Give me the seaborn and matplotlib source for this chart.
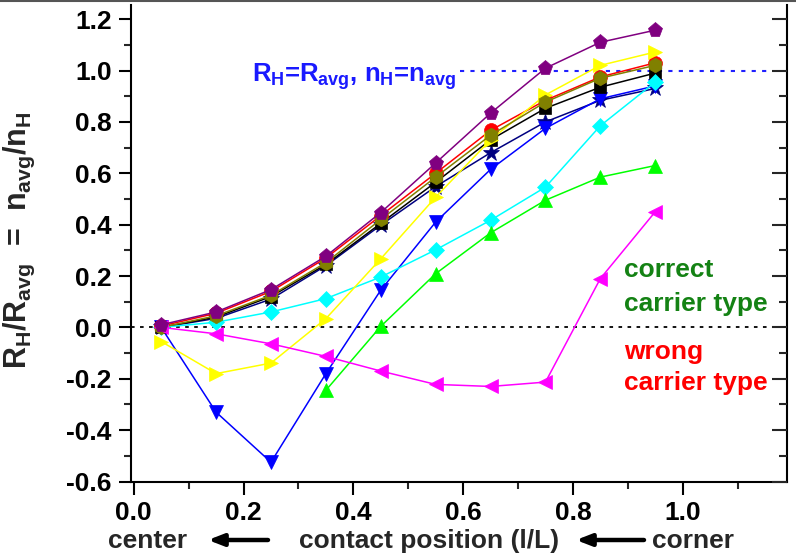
import numpy as np
import pandas as pd
import matplotlib
matplotlib.use("Agg")
import matplotlib.pyplot as plt
from matplotlib.ticker import MultipleLocator, FixedLocator
import seaborn as sns

# ---- data ----
x_pos = [0.05, 0.15, 0.25, 0.35, 0.45, 0.55, 0.65, 0.75, 0.85, 0.95]
nan = np.nan
navy_star   = [0.000, 0.035, 0.110, 0.240, 0.398, 0.548, 0.680, 0.800, 0.884, 0.930]
blue_down   = [0.000, -0.330, -0.525, -0.180, 0.145, 0.410, 0.615, 0.775, 0.890, 0.940]
black_sq    = [0.000, 0.040, 0.120, 0.245, 0.405, 0.565, 0.730, 0.853, 0.935, 0.990]
cyan_diam   = [0.000, 0.020, 0.060, 0.112, 0.196, 0.302, 0.417, 0.546, 0.785, 0.955]
red_circ    = [0.005, 0.055, 0.140, 0.270, 0.435, 0.600, 0.767, 0.884, 0.975, 1.030]
yellow_right= [-0.055, -0.180, -0.139, 0.034, 0.267, 0.507, 0.730, 0.905, 1.020, 1.072]
olive_circ  = [0.000, 0.045, 0.125, 0.252, 0.420, 0.585, 0.748, 0.877, 0.970, 1.020]
green_up    = [nan, nan, nan, -0.245, 0.004, 0.209, 0.368, 0.495, 0.585, 0.630]
magenta_left= [0.000, -0.025, -0.064, -0.113, -0.170, -0.222, -0.230, -0.213, 0.190, 0.450]
purple_pent = [0.010, 0.060, 0.147, 0.277, 0.447, 0.640, 0.834, 1.009, 1.110, 1.157]

series = [
    ("navy_star", navy_star, "#000080", "*", 12),
    ("blue_down", blue_down, "#0000FF", "v", 10),
    ("black_sq", black_sq, "#000000", "s", 8.5),
    ("cyan_diam", cyan_diam, "#00FFFF", "D", 8),
    ("red_circ", red_circ, "#FF0000", "o", 10),
    ("yellow_right", yellow_right, "#FFFF00", ">", 10),
    ("olive_circ", olive_circ, "#808000", "h", 10.5),
    ("green_up", green_up, "#00FF00", "^", 10),
    ("magenta_left", magenta_left, "#FF00FF", "<", 10),
    ("purple_pent", purple_pent, "#800080", "p", 11),
]

x_ticks = [0.0, 0.2, 0.4, 0.6, 0.8, 1.0]
y_ticks = [-0.6, -0.4, -0.2, 0.0, 0.2, 0.4, 0.6, 0.8, 1.0, 1.2]

sns.set_style("ticks")
plt.rcParams["font.family"] = ["Liberation Sans", "DejaVu Sans"]
plt.rcParams["font.weight"] = "bold"
plt.rcParams["axes.unicode_minus"] = False
plt.rcParams["mathtext.fontset"] = "custom"
plt.rcParams["mathtext.rm"] = "Liberation Sans:bold"
plt.rcParams["mathtext.it"] = "Liberation Sans:bold"
plt.rcParams["mathtext.bf"] = "Liberation Sans:bold"

W, H = 796, 553
fig = plt.figure(figsize=(W / 100, H / 100), dpi=100)
L, R, T, B = 131, 787, 5, 481.5
ax = fig.add_axes([L / W, 1 - B / H, (R - L) / W, (B - T) / H])

# reference lines
ax.axhline(0.0, color="black", lw=1.3, ls=(0, (2, 3)), zorder=1)
ax.plot([0.595, 1.155], [1.0, 1.0], color="#2020FF", lw=1.5, ls=(0, (2, 3)), zorder=1)

for i, (name, vals, col, mk, ms) in enumerate(series):
    df = pd.DataFrame({"x": x_pos, "y": vals}).dropna()
    sns.lineplot(data=df, x="x", y="y", ax=ax, color=col, lw=1.1,
                 marker=mk, markersize=ms, markeredgecolor=col,
                 markeredgewidth=0.5, sort=False, estimator=None,
                 zorder=3 + i, legend=False)

ax.set_xlim(-0.005, 1.19)
ax.set_ylim(-0.6, 1.255)
ax.xaxis.set_major_locator(FixedLocator(x_ticks))
ax.xaxis.set_minor_locator(MultipleLocator(0.1))
ax.yaxis.set_major_locator(FixedLocator(y_ticks))
ax.yaxis.set_minor_locator(MultipleLocator(0.1))
ax.set_xticklabels([f"{v:.1f}" for v in x_ticks])
ax.set_yticklabels([f"{v:.1f}" for v in y_ticks])

for s in ["left", "bottom", "right"]:
    ax.spines[s].set_linewidth(1.5)
    ax.spines[s].set_color("black")
ax.spines["top"].set_visible(False)

ax.tick_params(axis="both", which="major", direction="out", length=9, width=1.5,
               labelsize=19, colors="black", pad=5)
ax.tick_params(axis="both", which="minor", direction="out", length=5, width=1.5)
ax.tick_params(axis="y", which="both", right=False)

# Right-side inward ticks
ax2 = ax.twinx()
ax2.set_ylim(ax.get_ylim())
ax2.yaxis.set_major_locator(FixedLocator(y_ticks))
ax2.yaxis.set_minor_locator(MultipleLocator(0.1))
ax2.tick_params(axis="y", which="major", direction="in", length=11, width=1.5, labelright=False)
ax2.tick_params(axis="y", which="minor", direction="in", length=6, width=1.5)
for s in ax2.spines.values():
    s.set_visible(False)

for lab in ax.get_xticklabels() + ax.get_yticklabels():
    lab.set_fontweight("bold")

ax.set_xlabel("")
ax.set_ylabel(r"$R_H/R_{avg}$  =  $n_{avg}/n_H$", fontsize=22, fontweight="bold")
ax.yaxis.set_label_coords(-0.143, 0.507)

# annotations
ax.text(0.216, 0.955, r"$R_H$=$R_{avg}$, $n_H$=$n_{avg}$", color="#1a1aff",
        fontsize=18.5, fontweight="bold", va="baseline", ha="left")
txt_kw = dict(fontsize=19, fontweight="bold", va="baseline", ha="left")
ax.text(0.893, 0.195, "correct", color="#148214", **txt_kw)
ax.text(0.893, 0.065, "carrier type", color="#148214", **txt_kw)
ax.text(0.893, -0.122, "wrong", color="#FF0000", **txt_kw)
ax.text(0.893, -0.245, "carrier type", color="#FF0000", **txt_kw)

# bottom axis caption
yb = H - 548
cap_kw = dict(fontsize=19, fontweight="bold", ha="center", va="baseline")
fig.text(148 / W, yb / H, "center", **cap_kw)
fig.text(429 / W, yb / H, "contact position (l/L)", **cap_kw)
fig.text(693 / W, yb / H, "corner", **cap_kw)
for x0, x1 in [(268, 208), (644, 576)]:
    ax.annotate("", xy=(x1, H - 540), xytext=(x0, H - 540), xycoords="figure pixels",
                textcoords="figure pixels",
                arrowprops=dict(arrowstyle="-|>,head_length=0.9,head_width=0.35",
                                lw=3.2, color="black", shrinkA=0, shrinkB=0),
                annotation_clip=False)

# thin top border like the reference image
fig.add_artist(plt.Line2D([0, 1], [0.998, 0.998], transform=fig.transFigure, color="#555555", lw=1.5))

fig.savefig("out.png", dpi=100)
